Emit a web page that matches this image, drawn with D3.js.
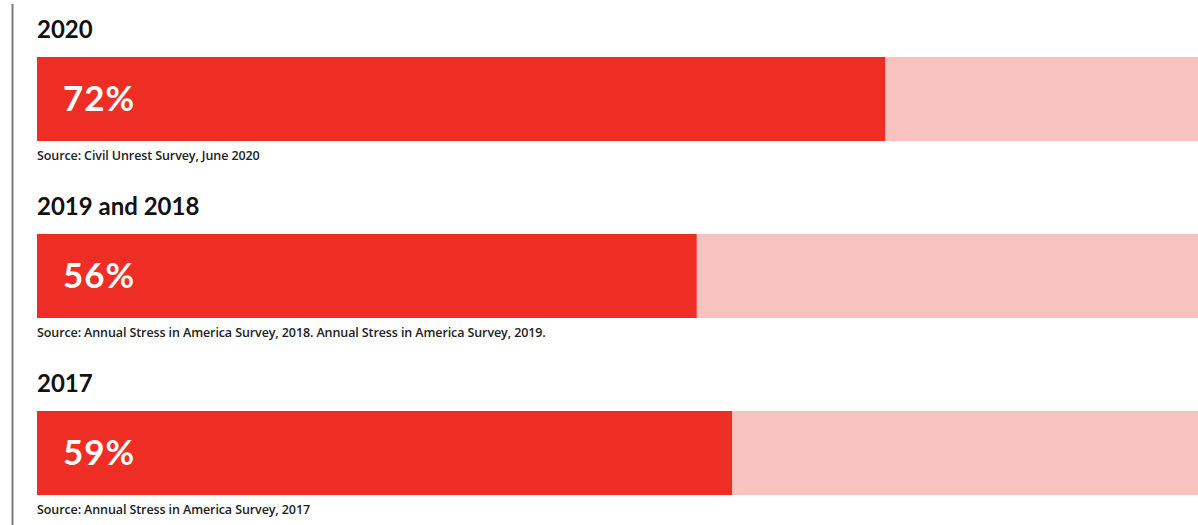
<!DOCTYPE html>
<html>
<head>
<meta charset="utf-8">
<script src="https://cdn.jsdelivr.net/npm/d3@7"></script>
<style>
  html, body { margin: 0; padding: 0; background: #fff; }
  svg { display: block; }
</style>
</head>
<body>
<svg id="chart" width="1198" height="525"></svg>
<script>
// Share of adults reporting the issue, by survey year
const periods = ["2020", "2019 and 2018", "2017"];
const shares = [72, 56, 59];
const sources = [
  "Source: Civil Unrest Survey, June 2020",
  "Source: Annual Stress in America Survey, 2018. Annual Stress in America Survey, 2019.",
  "Source: Annual Stress in America Survey, 2017"
];

const svg = d3.select("#chart");
const W = 1198, H = 525;

// Horizontal percent scale: the 100% track runs past the right edge
const x = d3.scaleLinear().domain([0, 100]).range([37, 1215]);
// Row bands (bar top and height); rows are 177px apart, bars 84px tall
const y = d3.scaleBand().domain(periods).range([57, 495]).paddingInner(93 / 177).paddingOuter(0).align(0);
const barH = y.bandwidth();

// Left rule
svg.append("line")
  .attr("x1", 12.5).attr("x2", 12.5)
  .attr("y1", 4).attr("y2", H)
  .attr("stroke", "#7a7a7a").attr("stroke-width", 2);

const rows = svg.selectAll("g.row")
  .data(periods.map((p, i) => ({ period: p, value: shares[i], source: sources[i] })))
  .join("g")
  .attr("class", "row");

// Full-width track
rows.append("rect")
  .attr("x", x(0))
  .attr("y", d => y(d.period))
  .attr("width", x(100) - x(0))
  .attr("height", barH)
  .attr("fill", "#f8c2be");

// Value bar
rows.append("rect")
  .attr("x", x(0))
  .attr("y", d => y(d.period))
  .attr("width", d => x(d.value) - x(0))
  .attr("height", barH)
  .attr("fill", "#ee2e24");

// Period heading
rows.append("text")
  .attr("x", x(0))
  .attr("y", d => y(d.period) - 19)
  .attr("font-family", "Lato, 'Open Sans', sans-serif")
  .attr("font-weight", 700)
  .attr("font-size", 24)
  .attr("fill", "#111")
  .text(d => d.period);

// Percentage label inside the bar
rows.append("text")
  .attr("x", x(0) + 26)
  .attr("y", d => y(d.period) + barH / 2 + 12)
  .attr("font-family", "Lato, 'Open Sans', sans-serif")
  .attr("font-weight", 700)
  .attr("font-size", 35)
  .attr("letter-spacing", 1)
  .attr("fill", "#fff")
  .text(d => d.value + "%");

// Source note
rows.append("text")
  .attr("x", x(0))
  .attr("y", d => y(d.period) + barH + 19)
  .attr("font-family", "'Open Sans', sans-serif")
  .attr("font-weight", 600)
  .attr("font-size", 12.5)
  .attr("letter-spacing", -0.1)
  .attr("fill", "#222")
  .text(d => d.source);
</script>
</body>
</html>
